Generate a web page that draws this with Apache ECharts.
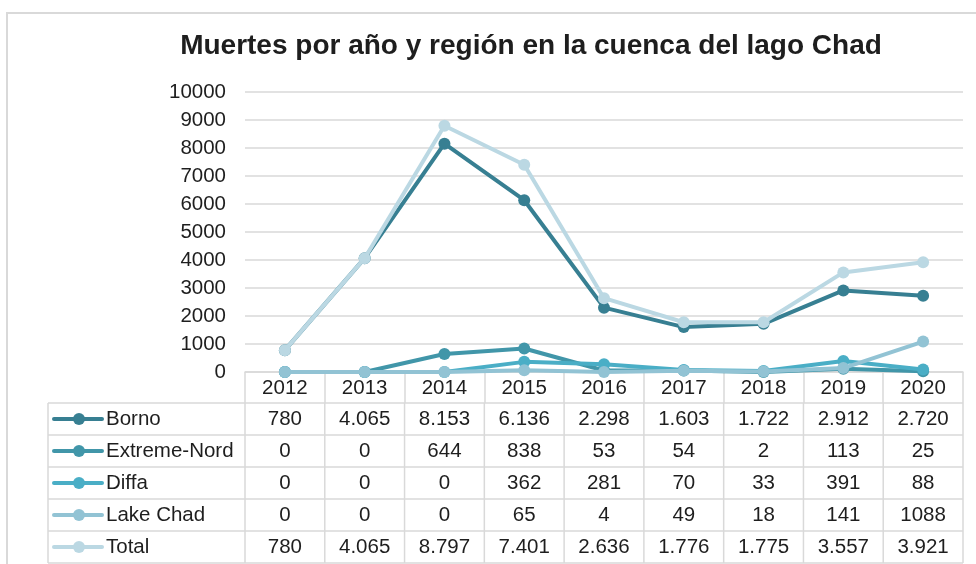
<!DOCTYPE html>
<html>
<head>
<meta charset="utf-8">
<script src="https://cdn.jsdelivr.net/npm/echarts@6/dist/echarts.min.js"></script>
<style>
html,body{margin:0;padding:0;background:#fff;}
#chart{width:976px;height:564px;}
</style>
</head>
<body>
<div id="chart"></div>
<script>
// ---- data ----
const years = ['2012','2013','2014','2015','2016','2017','2018','2019','2020'];
const seriesNames = ['Borno','Extreme-Nord','Diffa','Lake Chad','Total'];
const borno = [780,4065,8153,6136,2298,1603,1722,2912,2720];
const extremeNord = [0,0,644,838,53,54,2,113,25];
const diffa = [0,0,0,362,281,70,33,391,88];
const lakeChad = [0,0,0,65,4,49,18,141,1088];
const total = [780,4065,8797,7401,2636,1776,1775,3557,3921];
const yTicks = [0,1000,2000,3000,4000,5000,6000,7000,8000,9000,10000];
const titleText = 'Muertes por año y región en la cuenca del lago Chad';
// row display: whether thousands are shown with a dot separator (as in the source table)
const useThousandsDot = [true,true,true,false,true];

const colors = ['#377f92','#4196a9','#4aaec6','#92c3d4','#bbd8e3'];
const seriesData = [borno, extremeNord, diffa, lakeChad, total];
const FONT = 'Liberation Sans, Arial, sans-serif';
const FS = 20.5;
const gridColor = '#d9d9d9';
const textColor = '#1e1e1e';

function fmt(v, dot){
  if(!dot) return String(v);
  const s = String(v);
  return s.replace(/\B(?=(\d{3})+(?!\d))/g,'.');
}

const chart = echarts.init(document.getElementById('chart'), null, {renderer:'canvas'});

const G = {left:245, right:13, top:92, bottom:192};

chart.setOption({
  animation:false,
  backgroundColor:'#fff',
  title:{
    text:titleText,
    left:526, top:27, textAlign:'center',
    textStyle:{fontFamily:FONT, fontSize:28, fontWeight:'bold', color:textColor}
  },
  grid:{left:G.left, right:G.right, top:G.top, bottom:G.bottom, containLabel:false},
  xAxis:{
    type:'category', data:years, boundaryGap:true,
    axisLine:{show:true, lineStyle:{color:gridColor, width:1.5}},
    axisTick:{show:true, length:31, interval:0, lineStyle:{color:gridColor, width:1.5}},
    axisLabel:{show:true, interval:0, fontFamily:FONT, fontSize:FS, color:textColor, margin:6}
  },
  yAxis:{
    type:'value', min:yTicks[0], max:yTicks[yTicks.length-1], interval:1000,
    axisLine:{show:false}, axisTick:{show:false},
    axisLabel:{fontFamily:FONT, fontSize:FS, color:textColor, margin:19, formatter:v=>String(v)},
    splitLine:{lineStyle:{color:gridColor, width:1.5}}
  },
  series: seriesNames.map((n,i)=>({
    name:n, type:'line', data:seriesData[i],
    symbol:'circle', symbolSize:12, showSymbol:true,
    lineStyle:{color:colors[i], width:4},
    itemStyle:{color:colors[i]},
    z:2+i
  }))
});

// ---- data table drawn with graphic elements ----
function buildTable(){
  const c0 = chart.convertToPixel({xAxisIndex:0}, 0);
  const c1 = chart.convertToPixel({xAxisIndex:0}, 1);
  const band = c1 - c0;
  const xLeftData = c0 - band/2;
  const xRight = chart.convertToPixel({xAxisIndex:0}, years.length-1) + band/2;
  const yAxisBase = chart.convertToPixel({yAxisIndex:0}, 0);
  const headH = 31, rowH = 32;
  const tableTop = yAxisBase + headH;
  const labelLeft = 48;
  const els = [];
  const ls = {stroke:gridColor, lineWidth:1.5};
  // outer frame of whole chart
  els.push({type:'rect', shape:{x:7, y:13, width:1200, height:800}, style:{fill:null, stroke:gridColor, lineWidth:2}, silent:true, z:0});
  // horizontal lines
  for(let r=0;r<=seriesNames.length;r++){
    const y = tableTop + r*rowH;
    els.push({type:'line', shape:{x1:labelLeft, y1:y, x2:xRight, y2:y}, style:ls, silent:true});
  }
  // vertical lines in body
  els.push({type:'line', shape:{x1:labelLeft, y1:tableTop, x2:labelLeft, y2:tableTop+seriesNames.length*rowH}, style:ls, silent:true});
  for(let k=0;k<=years.length;k++){
    const x = xLeftData + k*band;
    els.push({type:'line', shape:{x1:x, y1:tableTop, x2:x, y2:tableTop+seriesNames.length*rowH}, style:ls, silent:true});
  }
  // rows
  seriesNames.forEach((n,i)=>{
    const yc = tableTop + i*rowH + rowH/2;
    els.push({type:'line', shape:{x1:54, y1:yc, x2:102, y2:yc}, style:{stroke:colors[i], lineWidth:4, lineCap:'round'}, silent:true});
    els.push({type:'circle', shape:{cx:79, cy:yc, r:6}, style:{fill:colors[i]}, silent:true});
    els.push({type:'text', x:106, y:yc, style:{text:n, fontFamily:FONT, fontSize:FS, fill:textColor, textVerticalAlign:'middle', textAlign:'left'}, silent:true});
    seriesData[i].forEach((v,j)=>{
      const xc = chart.convertToPixel({xAxisIndex:0}, j);
      els.push({type:'text', x:xc, y:yc, style:{text:fmt(v, useThousandsDot[i]), fontFamily:FONT, fontSize:FS, fill:textColor, textAlign:'center', textVerticalAlign:'middle'}, silent:true});
    });
  });
  chart.setOption({graphic:{elements:els}});
}
buildTable();
</script>
</body>
</html>
